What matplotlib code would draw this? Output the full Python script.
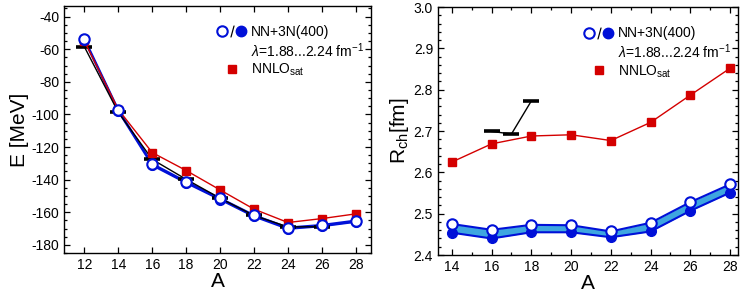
import numpy as np
import matplotlib
matplotlib.use('Agg')
import matplotlib.pyplot as plt
from matplotlib.lines import Line2D
from matplotlib.legend_handler import HandlerTuple
from matplotlib.ticker import MultipleLocator

plt.rcParams['font.family'] = ['Liberation Sans', 'DejaVu Sans']
plt.rcParams['mathtext.fontset'] = 'custom'
plt.rcParams['mathtext.rm'] = 'Liberation Sans'
plt.rcParams['mathtext.it'] = 'Liberation Sans:italic'
plt.rcParams['axes.unicode_minus'] = False

# Energies (left panel)
A_E = [12, 14, 16, 18, 20, 22, 24, 26, 28]
E_open = [-53.5, -97.2, -130.3, -141.2, -151.4, -161.8, -169.4, -167.8, -165.1]
E_fill = [-54.3, -98.0, -131.2, -142.0, -152.2, -162.6, -170.2, -168.6, -165.9]
E_sat = [-55.0, -97.0, -123.4, -134.4, -146.3, -158.1, -166.3, -163.9, -161.0]
A_Eexp = [12, 14, 16, 18, 20, 22, 24, 26]
E_exp = [-58.5, -98.7, -127.6, -139.8, -151.4, -162.0, -169.0, -168.9]

# Charge radii (right panel)
A_R = [14, 16, 18, 20, 22, 24, 26, 28]
R_open = [2.475, 2.461, 2.473, 2.472, 2.457, 2.478, 2.528, 2.571]
R_fill = [2.454, 2.440, 2.455, 2.455, 2.443, 2.457, 2.507, 2.551]
R_sat = [2.625, 2.669, 2.688, 2.691, 2.677, 2.721, 2.787, 2.852]
A_Rexp = [16, 17, 18]
R_exp = [2.699, 2.693, 2.773]

blue = '#0010d8'
band = '#3ea6e0'
red = '#d40000'

fig = plt.figure(figsize=(7.47, 2.96), dpi=100)
ax1 = fig.add_axes([0.0857, 0.1453, 0.411, 0.8344])
ax2 = fig.add_axes([0.5863, 0.1385, 0.4017, 0.8375])


def draw(ax, A, y_open, y_fill, y_sat, A_exp, y_exp):
    ax.fill_between(A, y_fill, y_open, color=band, lw=0, zorder=1)
    ax.plot(A, y_open, color=blue, lw=1.5, zorder=2)
    ax.plot(A, y_fill, color=blue, lw=1.5, zorder=2)
    ax.plot(A_exp, y_exp, color='k', lw=1.0, zorder=3)
    ax.plot(A_exp, y_exp, ls='none', marker='_', color='k', ms=11.5, mew=2.6, zorder=3)
    ax.plot(A, y_sat, color=red, lw=1.0, marker='s', ms=5.5, zorder=4)
    ax.plot(A, y_fill, ls='none', marker='o', color=blue, ms=7, zorder=5)
    ax.plot(A, y_open, ls='none', marker='o', mfc='white', mec=blue, mew=1.5, ms=7.5, zorder=6)

    h_open = Line2D([], [], ls='none', marker='o', mfc='white', mec=blue, mew=1.5, ms=7.5)
    h_slash = Line2D([], [], ls='none', marker='$/$', color='k', ms=8.5, mew=0)
    h_fill = Line2D([], [], ls='none', marker='o', color=blue, ms=7.5)
    h_none = Line2D([], [], ls='none')
    h_sq = Line2D([], [], ls='none', marker='s', color=red, ms=6)
    ax.legend([(h_open, h_slash, h_fill), h_none, h_sq],
              ['NN+3N(400)', r'$\lambda$=1.88...2.24 fm$^{-1}$', r'NNLO$_{\rm sat}$'],
              handler_map={tuple: HandlerTuple(ndivide=None, pad=0)},
              loc='upper right', frameon=False, fontsize=10,
              handlelength=2.0, handletextpad=0.4, labelspacing=0.15,
              borderaxespad=0.1, bbox_to_anchor=(1.0, 0.95))

    ax.tick_params(which='both', direction='in', top=True, right=True,
                   labelsize=10, width=0.9)
    ax.tick_params(which='major', length=4.5)
    ax.tick_params(which='minor', length=2.5)
    for s in ax.spines.values():
        s.set_linewidth(1.0)
    ax.set_xlabel('A', fontsize=15, labelpad=0)


draw(ax1, A_E, E_open, E_fill, E_sat, A_Eexp, E_exp)
ax1.set_xlim(10.8, 28.9)
ax1.set_ylim(-185, -33.5)
ax1.set_xticks(range(12, 29, 2))
ax1.yaxis.set_major_locator(MultipleLocator(20))
ax1.yaxis.set_minor_locator(MultipleLocator(5))
ax1.set_ylabel('E [MeV]', fontsize=15, labelpad=2)

draw(ax2, A_R, R_open, R_fill, R_sat, A_Rexp, R_exp)
ax2.set_xlim(13.3, 28.4)
ax2.set_ylim(2.4, 3.0)
ax2.set_xticks(range(14, 29, 2))
ax2.xaxis.set_minor_locator(MultipleLocator(1))
ax2.yaxis.set_major_locator(MultipleLocator(0.1))
ax2.yaxis.set_minor_locator(MultipleLocator(0.02))
ax2.set_ylabel(r'R$_{\rm ch}$[fm]', fontsize=15, labelpad=2)

fig.savefig('out.png', dpi=100)
